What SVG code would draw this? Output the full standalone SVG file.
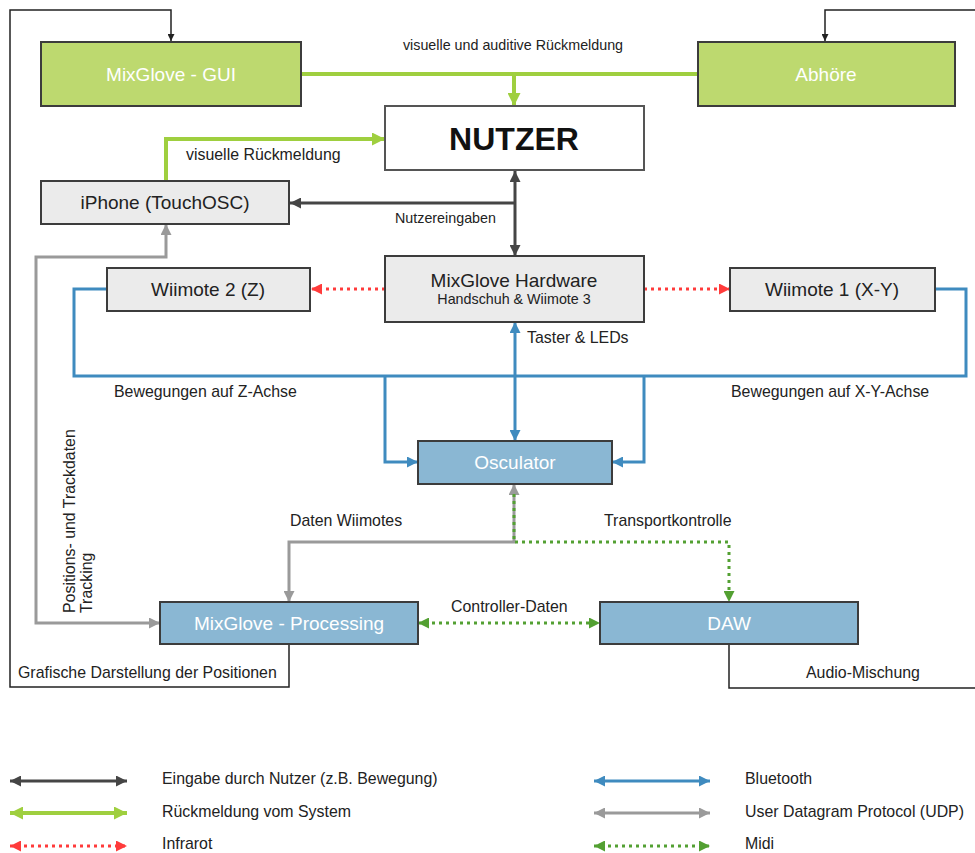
<svg xmlns="http://www.w3.org/2000/svg" width="975" height="853" viewBox="0 0 975 853">
<style>
text{font-family:"Liberation Sans",Arial,Helvetica,sans-serif;fill:#222}
.main{font-size:19px}
.lbl{font-size:15.9px}
.sm{font-size:14.3px}
.w{fill:#ffffff}
.box{stroke:#3c3c3c;stroke-width:2}
.gb{fill:#bdd96f}
.bb{fill:#8ab7d3}
.xb{fill:#ebebeb}
.nb{fill:#ffffff;stroke:#555;stroke-width:2}
path{fill:none}
.thin{stroke:#222;stroke-width:1.5}
.dark{stroke:#454545;stroke-width:3}
.green{stroke:#9fcf3f;stroke-width:4}
.blue{stroke:#3f8bbf;stroke-width:3}
.gray{stroke:#9a9a9a;stroke-width:3}
.red{stroke:#ff3b3b;stroke-width:3;stroke-dasharray:3 4}
.midi{stroke:#53a032;stroke-width:3;stroke-dasharray:3 4}
</style>
<defs>
<marker id="aThin" markerUnits="userSpaceOnUse" markerWidth="7" markerHeight="7" viewBox="0 0 10 10" refX="10" refY="5" orient="auto-start-reverse"><path d="M0,0 L10,5 L0,10 z" style="fill:#222"/></marker>
<marker id="aDark" markerUnits="userSpaceOnUse" markerWidth="11" markerHeight="11" viewBox="0 0 10 10" refX="10" refY="5" orient="auto-start-reverse"><path d="M0,0 L10,5 L0,10 z" style="fill:#454545"/></marker>
<marker id="aGreen" markerUnits="userSpaceOnUse" markerWidth="13" markerHeight="13" viewBox="0 0 10 10" refX="10" refY="5" orient="auto-start-reverse"><path d="M0,0 L10,5 L0,10 z" style="fill:#9fcf3f"/></marker>
<marker id="aBlue" markerUnits="userSpaceOnUse" markerWidth="11" markerHeight="11" viewBox="0 0 10 10" refX="10" refY="5" orient="auto-start-reverse"><path d="M0,0 L10,5 L0,10 z" style="fill:#3f8bbf"/></marker>
<marker id="aGray" markerUnits="userSpaceOnUse" markerWidth="11" markerHeight="11" viewBox="0 0 10 10" refX="10" refY="5" orient="auto-start-reverse"><path d="M0,0 L10,5 L0,10 z" style="fill:#9a9a9a"/></marker>
<marker id="aRed" markerUnits="userSpaceOnUse" markerWidth="11" markerHeight="11" viewBox="0 0 10 10" refX="10" refY="5" orient="auto-start-reverse"><path d="M0,0 L10,5 L0,10 z" style="fill:#ff3b3b"/></marker>
<marker id="aMidi" markerUnits="userSpaceOnUse" markerWidth="11" markerHeight="11" viewBox="0 0 10 10" refX="10" refY="5" orient="auto-start-reverse"><path d="M0,0 L10,5 L0,10 z" style="fill:#53a032"/></marker>
</defs>
<rect width="975" height="853" fill="#ffffff"/>

<g id="connectors">
<path class="thin" d="M289,644 V687 H10 V10 H171 V41" marker-end="url(#aThin)"/>
<path class="thin" d="M980,10 H825 V41" marker-end="url(#aThin)"/>
<path class="thin" d="M729,644 V688 H980"/>
<path class="green" d="M301,74 H698"/>
<path class="green" d="M514,74 V106" marker-end="url(#aGreen)"/>
<path class="green" d="M166,181 V139 H385" marker-end="url(#aGreen)"/>
<path class="dark" d="M515,171 V256" marker-start="url(#aDark)" marker-end="url(#aDark)"/>
<path class="dark" d="M515,203 H290" marker-end="url(#aDark)"/>
<path class="red" d="M385,289 H311" marker-end="url(#aRed)"/>
<path class="red" d="M644,289 H730" marker-end="url(#aRed)"/>
<path class="blue" d="M107,289 H74 V376 H966 V289 H935"/>
<path class="blue" d="M385,376 V462 H418" marker-end="url(#aBlue)"/>
<path class="blue" d="M644,376 V462 H612" marker-end="url(#aBlue)"/>
<path class="blue" d="M515,322 V441" marker-start="url(#aBlue)" marker-end="url(#aBlue)"/>
<path class="gray" d="M166,224 V257 H36 V623 H160" marker-start="url(#aGray)" marker-end="url(#aGray)"/>
<path class="gray" d="M514,484 V542 H289 V602" marker-start="url(#aGray)" marker-end="url(#aGray)"/>
<path class="midi" d="M514,494 V542 H729 V602" marker-end="url(#aMidi)"/>
<path class="midi" d="M418,623 H600" marker-start="url(#aMidi)" marker-end="url(#aMidi)"/>
</g>

<g id="labels">
<text class="sm" x="513" y="50" text-anchor="middle">visuelle und auditive Rückmeldung</text>
<text class="lbl" x="186" y="160">visuelle Rückmeldung</text>
<text class="sm" x="395" y="223">Nutzereingaben</text>
<text class="lbl" x="527" y="343">Taster &amp; LEDs</text>
<text class="lbl" x="114" y="397">Bewegungen auf Z-Achse</text>
<text class="lbl" x="731" y="397">Bewegungen auf X-Y-Achse</text>
<text class="lbl" x="290" y="526">Daten Wiimotes</text>
<text class="lbl" x="604" y="526">Transportkontrolle</text>
<text class="lbl" x="451" y="612">Controller-Daten</text>
<text class="lbl" x="18" y="678">Grafische Darstellung der Positionen</text>
<text class="lbl" x="806" y="678">Audio-Mischung</text>
<text class="lbl" transform="translate(75,613) rotate(-90)">Positions- und Trackdaten</text>
<text class="lbl" transform="translate(92,613) rotate(-90)">Tracking</text>
</g>

<g id="gui"><rect class="box gb" x="41" y="42" width="260" height="64"/><text class="main w" x="171" y="81" text-anchor="middle">MixGlove - GUI</text></g>
<g id="abhoere"><rect class="box gb" x="698" y="42" width="257" height="64"/><text class="main w" x="826" y="81" text-anchor="middle">Abhöre</text></g>
<g id="nutzer"><rect class="nb" x="385" y="106" width="259" height="64"/><text x="514" y="150" text-anchor="middle" style="font-size:32px;font-weight:bold;fill:#111">NUTZER</text></g>
<g id="iphone"><rect class="box xb" x="41" y="181" width="248" height="43"/><text class="main" x="165" y="209" text-anchor="middle">iPhone (TouchOSC)</text></g>
<g id="hardware"><rect class="box xb" x="385" y="256" width="259" height="66"/><text class="main" x="514" y="287" text-anchor="middle">MixGlove Hardware</text><text class="sm" x="514" y="304" text-anchor="middle">Handschuh &amp; Wiimote 3</text></g>
<g id="wiimote2"><rect class="box xb" x="107" y="268" width="203" height="43"/><text class="main" x="208" y="296" text-anchor="middle">Wiimote 2 (Z)</text></g>
<g id="wiimote1"><rect class="box xb" x="730" y="268" width="205" height="43"/><text class="main" x="832" y="296" text-anchor="middle">Wiimote 1 (X-Y)</text></g>
<g id="osculator"><rect class="box bb" x="418" y="441" width="194" height="43"/><text class="main w" x="515" y="469" text-anchor="middle">Osculator</text></g>
<g id="processing"><rect class="box bb" x="160" y="602" width="258" height="42"/><text class="main w" x="289" y="630" text-anchor="middle">MixGlove - Processing</text></g>
<g id="daw"><rect class="box bb" x="600" y="602" width="258" height="42"/><text class="main w" x="729" y="630" text-anchor="middle">DAW</text></g>

<g id="legend">
<path class="dark" d="M10,781 H127" marker-start="url(#aDark)" marker-end="url(#aDark)"/>
<path class="green" d="M10,813 H127" marker-start="url(#aGreen)" marker-end="url(#aGreen)"/>
<path class="red" d="M10,846 H127" marker-start="url(#aRed)" marker-end="url(#aRed)"/>
<path class="blue" d="M594,781 H710" marker-start="url(#aBlue)" marker-end="url(#aBlue)"/>
<path class="gray" d="M594,813 H710" marker-start="url(#aGray)" marker-end="url(#aGray)"/>
<path class="midi" d="M594,846 H710" marker-start="url(#aMidi)" marker-end="url(#aMidi)"/>
<text class="lbl" x="162" y="784">Eingabe durch Nutzer (z.B. Bewegung)</text>
<text class="lbl" x="162" y="817">Rückmeldung vom System</text>
<text class="lbl" x="162" y="849">Infrarot</text>
<text class="lbl" x="745" y="784">Bluetooth</text>
<text class="lbl" x="745" y="817">User Datagram Protocol (UDP)</text>
<text class="lbl" x="745" y="849">Midi</text>
</g>
</svg>
